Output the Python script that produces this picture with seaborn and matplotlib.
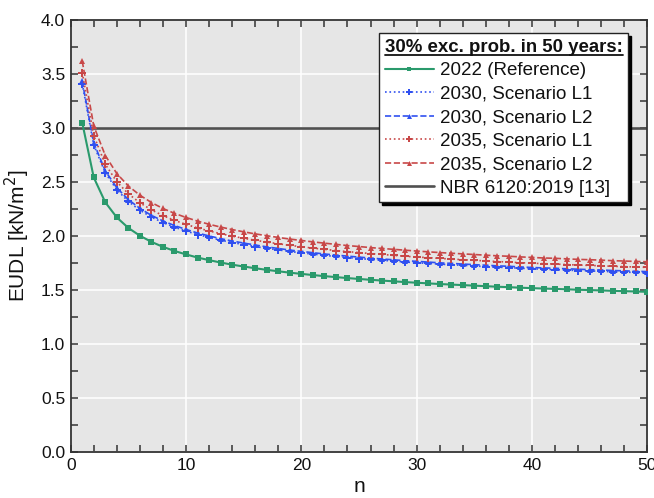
import numpy as np
import pandas as pd
import matplotlib
matplotlib.use("Agg")
import matplotlib.pyplot as plt
from matplotlib.ticker import MultipleLocator
from matplotlib.lines import Line2D
import seaborn as sns

# ---------------- data ----------------
n = list(range(1, 51))

ref_2022 = [3.050, 2.543, 2.313, 2.173, 2.076, 2.004, 1.947, 1.901, 1.863, 1.831,
            1.802, 1.778, 1.756, 1.736, 1.719, 1.703, 1.688, 1.675, 1.662, 1.651,
            1.640, 1.630, 1.621, 1.612, 1.604, 1.596, 1.589, 1.582, 1.575, 1.569,
            1.563, 1.557, 1.552, 1.547, 1.542, 1.537, 1.532, 1.528, 1.523, 1.519,
            1.515, 1.512, 1.508, 1.504, 1.501, 1.498, 1.494, 1.491, 1.488, 1.485]

s2030_l1 = [3.410, 2.843, 2.586, 2.429, 2.321, 2.240, 2.177, 2.125, 2.083, 2.047,
            2.015, 1.988, 1.963, 1.941, 1.922, 1.904, 1.887, 1.873, 1.858, 1.846,
            1.834, 1.822, 1.812, 1.802, 1.793, 1.784, 1.777, 1.769, 1.761, 1.754,
            1.747, 1.741, 1.735, 1.730, 1.724, 1.718, 1.713, 1.708, 1.703, 1.698,
            1.694, 1.690, 1.686, 1.681, 1.678, 1.675, 1.670, 1.667, 1.664, 1.660]

s2030_l2 = [3.434, 2.863, 2.604, 2.447, 2.338, 2.257, 2.192, 2.141, 2.098, 2.062,
            2.029, 2.002, 1.977, 1.955, 1.936, 1.918, 1.901, 1.886, 1.871, 1.859,
            1.847, 1.835, 1.825, 1.815, 1.806, 1.797, 1.789, 1.781, 1.773, 1.767,
            1.760, 1.753, 1.748, 1.742, 1.736, 1.731, 1.725, 1.721, 1.715, 1.710,
            1.706, 1.703, 1.698, 1.694, 1.690, 1.687, 1.682, 1.679, 1.675, 1.672]

s2035_l1 = [3.514, 2.930, 2.665, 2.503, 2.392, 2.309, 2.243, 2.190, 2.146, 2.109,
            2.076, 2.048, 2.023, 2.000, 1.980, 1.962, 1.945, 1.930, 1.915, 1.902,
            1.889, 1.878, 1.867, 1.857, 1.848, 1.839, 1.831, 1.822, 1.814, 1.807,
            1.801, 1.794, 1.788, 1.782, 1.776, 1.771, 1.765, 1.760, 1.754, 1.750,
            1.745, 1.742, 1.737, 1.733, 1.729, 1.726, 1.721, 1.718, 1.714, 1.711]

s2035_l2 = [3.620, 3.019, 2.746, 2.579, 2.464, 2.379, 2.311, 2.256, 2.211, 2.173,
            2.139, 2.110, 2.084, 2.061, 2.040, 2.021, 2.004, 1.988, 1.973, 1.960,
            1.947, 1.935, 1.924, 1.913, 1.904, 1.894, 1.886, 1.878, 1.870, 1.862,
            1.855, 1.848, 1.842, 1.836, 1.830, 1.824, 1.818, 1.814, 1.808, 1.803,
            1.798, 1.795, 1.790, 1.785, 1.782, 1.778, 1.773, 1.770, 1.766, 1.763]

nbr_value = 3.0

series_labels = ["2022 (Reference)", "2030, Scenario L1", "2030, Scenario L2",
                 "2035, Scenario L1", "2035, Scenario L2"]
nbr_label = "NBR 6120:2019 [13]"
legend_title = "30% exc. prob. in 50 years:"

# ---------------- style ----------------
sns.set_theme(style="darkgrid")
plt.rcParams["font.family"] = ["Liberation Sans", "DejaVu Sans"]

fig = plt.figure(figsize=(6.54, 4.98), dpi=100)
ax = fig.add_axes([70.7 / 654, 1 - 452.3 / 498, (647.3 - 70.7) / 654, (452.3 - 20) / 498])
ax.set_facecolor("#e6e6e6")

green = "#2a9a6c"
blue = "#3050f0"
red = "#c84848"

styles = [
    dict(color=green, linestyle="-", marker="s", lw=1.5, ms=4.5),
    dict(color=blue, linestyle=":", marker="P", lw=1.2, ms=5.5),
    dict(color=blue, linestyle="--", marker="^", lw=1.2, ms=4.8),
    dict(color=red, linestyle=":", marker="P", lw=1.2, ms=5.5),
    dict(color=red, linestyle="--", marker="^", lw=1.2, ms=4.8),
]
values = [ref_2022, s2030_l1, s2030_l2, s2035_l1, s2035_l2]

ax.axhline(nbr_value, color="#505050", lw=1.9, zorder=2)

for lab, vals, st in zip(series_labels, values, styles):
    df = pd.DataFrame({"n": n, "EUDL": vals})
    sns.lineplot(data=df, x="n", y="EUDL", ax=ax, color=st["color"],
                 linestyle=st["linestyle"], marker=st["marker"], linewidth=st["lw"],
                 markersize=st["ms"], markeredgewidth=0, label=lab, zorder=3,
                 legend=False)

ax.set_xlim(0, 50)
ax.set_ylim(0, 4.0)
ax.xaxis.set_major_locator(MultipleLocator(10))
ax.xaxis.set_minor_locator(MultipleLocator(2))
ax.yaxis.set_major_locator(MultipleLocator(0.5))
ax.yaxis.set_minor_locator(MultipleLocator(0.25))
ax.yaxis.set_major_formatter(matplotlib.ticker.FormatStrFormatter("%.1f"))

ax.grid(True, which="major", color="white", lw=1.1)
ax.grid(False, which="minor")

for sp in ax.spines.values():
    sp.set_visible(True)
    sp.set_color("#333333")
    sp.set_linewidth(1.3)

ax.tick_params(which="both", direction="in", top=True, right=True, bottom=True, left=True,
               color="#333333", labelsize=12.5, labelcolor="#111111", pad=4)
ax.tick_params(which="major", length=5, width=1.1)
ax.tick_params(which="minor", length=5, width=1.1)

ax.set_xlabel("n", fontsize=15, color="#111111", labelpad=3)
ax.set_ylabel("EUDL [kN/m$^2$]", fontsize=15, color="#111111", labelpad=6)

# ---------------- legend ----------------
handles = []
for lab, st in zip(series_labels, styles):
    handles.append(Line2D([], [], color=st["color"], linestyle=st["linestyle"],
                          marker=st["marker"], lw=st["lw"], markersize=st["ms"] * 0.75,
                          markeredgewidth=0, markevery=[1]))
handles.append(Line2D([], [], color="#505050", lw=1.9))
labels = series_labels + [nbr_label]

leg = ax.legend(handles, labels, title=legend_title, loc="upper right",
                bbox_to_anchor=(0.967, 0.970), borderaxespad=0, frameon=True,
                fancybox=False, fontsize=13.5, title_fontsize=13.4,
                shadow={"color": "black", "alpha": 1.0},
                handlelength=2.6, handletextpad=0.35, labelspacing=0.34,
                borderpad=0.3, alignment="left")
leg.get_frame().set_edgecolor("#222222")
leg.get_frame().set_linewidth(1.0)
leg.get_frame().set_facecolor("white")
leg.get_frame().set_alpha(1.0)
leg.get_title().set_fontweight("bold")
leg.get_title().set_color("#111111")
for t in leg.get_texts():
    t.set_color("#111111")
leg.set_zorder(10)

# underline the legend title
fig.canvas.draw()
bb = leg.get_title().get_window_extent(fig.canvas.get_renderer())
inv = fig.transFigure.inverted()
(x0, y0), (x1, y1) = inv.transform([(bb.x0, bb.y0), (bb.x1, bb.y1)])
under_y = y0 + 0.002
fig.add_artist(Line2D([x0, x1], [under_y, under_y], color="#111111", lw=1.3,
                      transform=fig.transFigure, zorder=20))

fig.savefig("out.png", dpi=100)
